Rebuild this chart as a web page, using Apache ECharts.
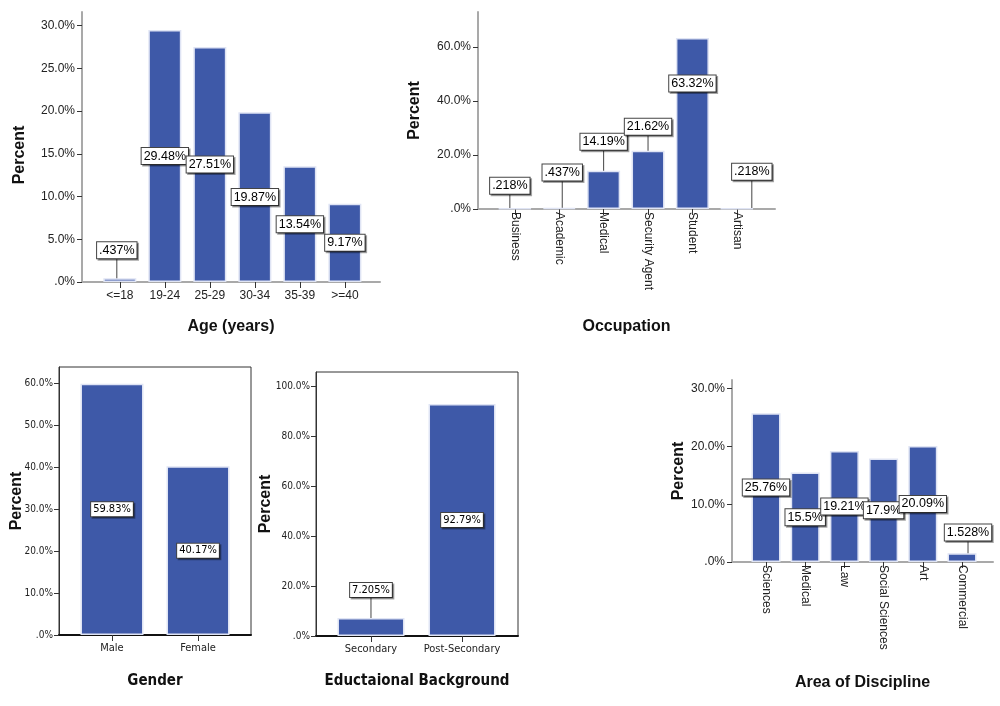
<!DOCTYPE html>
<html>
<head>
<meta charset="utf-8">
<title>Respondent profile</title>
<script src="https://cdn.jsdelivr.net/npm/echarts@6/dist/echarts.min.js"></script>
<style>
  html, body { margin: 0; padding: 0; background: #fff; }
  #main { width: 1000px; height: 706px; }
</style>
</head>
<body>
<div id="main"></div>
<script>
// categories
const ageCats = ['<=18', '19-24', '25-29', '30-34', '35-39', '>=40'];
const occCats = ['Business', 'Academic', 'Medical', 'Security Agent', 'Student', 'Artisan'];
const genderCats = ['Male', 'Female'];
const eduCats = ['Secondary', 'Post-Secondary'];
const discCats = ['Sciences', 'Medical', 'Law', 'Social Sciences', 'Art', 'Commercial'];

// percent values
const ageVals = [0.437, 29.48, 27.51, 19.87, 13.54, 9.17];
const occVals = [0.218, 0.437, 14.19, 21.62, 63.32, 0.218];
const genderVals = [59.83, 40.17];
const eduVals = [7.205, 92.79];
const discVals = [25.76, 15.5, 19.21, 17.9, 20.09, 1.528];

// y tick labels
const ageTicks = [0, 5, 10, 15, 20, 25, 30];
const occTicks = [0, 20, 40, 60];
const genderTicks = [0, 10, 20, 30, 40, 50, 60];
const eduTicks = [0, 20, 40, 60, 80, 100];
const discTicks = [0, 10, 20, 30];

const SANS = '"Liberation Sans", Arial, sans-serif';
const NARROW = '"DejaVu Sans Condensed", "Liberation Sans Narrow", "Liberation Sans", sans-serif';
const BAR = '#3E59A8';

function pctTick(v) {
  return v === 0 ? '.0%' : v.toFixed(1) + '%';
}
function pctLabel(v) {
  let s = String(Number(v.toPrecision(4)));
  if (s.indexOf('0.') === 0) s = s.slice(1);
  return s + '%';
}

let grids = [], xAxes = [], yAxes = [], series = [];

// p: one small bar panel
function panel(p) {
  const idx = grids.length;
  const narrow = p.font === NARROW;
  grids.push({
    left: p.box[0], top: p.box[1], width: p.box[2], height: p.box[3],
    outerBoundsMode: 'none',
    show: !!p.frame, borderColor: '#333', borderWidth: 1, backgroundColor: 'transparent'
  });
  const catIdx = p.cats.map((c, i) => i);
  xAxes.push({
    gridIndex: idx, type: 'value', min: p.xr[0], max: p.xr[1],
    splitLine: {show: false},
    axisLine: {show: true, onZero: false, lineStyle: {color: p.frame ? '#111' : '#a9a9a9', width: 2}},
    axisTick: {show: true, customValues: catIdx, length: 6, lineStyle: {color: '#333'}},
    axisLabel: {
      customValues: catIdx, formatter: v => p.cats[v], rotate: p.rotate ? -90 : 0,
      margin: p.rotate ? 3 : 8, color: '#222', fontSize: narrow ? 11 : 12, fontFamily: p.font
    },
    name: p.title, nameLocation: 'middle', nameGap: p.titleGap, nameMoveOverlap: false,
    nameTextStyle: {fontWeight: 'bold', fontSize: narrow ? 15 : 16, color: '#111', fontFamily: p.font}
  });
  yAxes.push({
    gridIndex: idx, type: 'value', min: 0, max: p.ymax,
    splitLine: {show: false},
    axisLine: {show: true, onZero: false, lineStyle: {color: p.frame ? '#333' : '#a9a9a9', width: p.frame ? 1 : 2}},
    axisTick: {show: true, customValues: p.ticks, length: 5, lineStyle: {color: '#333'}},
    axisLabel: {customValues: p.ticks, formatter: pctTick, color: '#222', margin: narrow ? 6 : 7,
      fontSize: narrow ? 10 : 12, fontFamily: p.font},
    name: 'Percent', nameLocation: 'middle', nameGap: p.pGap, nameMoveOverlap: false,
    nameTextStyle: {fontWeight: 'bold', fontSize: 16, color: '#111', fontFamily: SANS,
      padding: p.pPad || 0}
  });
  const lift = p.lift || {};
  series.push({
    type: 'bar', xAxisIndex: idx, yAxisIndex: idx, barWidth: p.barW,
    data: p.vals.map((v, i) => ({
      value: [i, v],
      labelLine: {show: !!(lift[i] && lift[i][2])}
    })),
    itemStyle: {color: BAR, borderColor: '#dfe4f4', borderWidth: 1.5},
    label: {
      show: true, position: 'inside', formatter: q => pctLabel(q.value[1]),
      color: '#000', fontSize: narrow ? 11 : 12.5, fontFamily: p.font,
      backgroundColor: '#fff', borderColor: '#444', borderWidth: 1, padding: [2, 2, 1, 2],
      shadowColor: 'rgba(0,0,0,0.35)', shadowOffsetX: 1.5, shadowOffsetY: 1.5, shadowBlur: 0
    },
    labelLine: {lineStyle: {color: '#444', width: 1}},
    labelLayout: q => {
      const l = lift[q.dataIndex];
      return l ? {dx: l[0], dy: l[1]} : {};
    },
    emphasis: {disabled: true},
    animation: false
  });
}

panel({cats: ageCats, vals: ageVals, ticks: ageTicks, box: [82, 12, 298, 270], xr: [-0.84, 5.78],
  ymax: 31.6, barW: 33, font: SANS, title: 'Age (years)', titleGap: 37, pGap: 54, pPad: [0, 16, 0, 0],
  lift: {0: [-3, -30, true]}});
panel({cats: occCats, vals: occVals, ticks: occTicks, box: [478, 12, 297, 197], xr: [-0.83, 5.86],
  ymax: 73, barW: 33, font: SANS, rotate: true, title: 'Occupation', titleGap: 110, pGap: 55,
  lift: {0: [-5, -23, true], 1: [3, -36, true], 2: [0, -48, true], 3: [0, -53, true], 4: [0, -40], 5: [15, -37, true]}});
panel({cats: genderCats, vals: genderVals, ticks: genderTicks, box: [59, 367, 192, 268], xr: [-0.616, 1.616],
  ymax: 63.8, barW: 63, font: NARROW, frame: true, title: 'Gender', titleGap: 39, pGap: 34});
panel({cats: eduCats, vals: eduVals, ticks: eduTicks, box: [316, 372, 202, 264], xr: [-0.604, 1.615],
  ymax: 105.6, barW: 67, font: NARROW, frame: true, title: 'Eductaional Background', titleGap: 38, pGap: 42,
  lift: {0: [0, -37, true]}});
panel({cats: discCats, vals: discVals, ticks: discTicks, box: [732, 380, 261, 182], xr: [-0.867, 5.79],
  ymax: 31.5, barW: 29, font: SANS, rotate: true, title: 'Area of Discipline', titleGap: 113, pGap: 45,
  lift: {5: [6, -25, true]}});

const chart = echarts.init(document.getElementById('main'));
chart.setOption({
  backgroundColor: '#fff',
  animation: false,
  grid: grids,
  xAxis: xAxes,
  yAxis: yAxes,
  series: series
});
window.addEventListener('resize', () => chart.resize());
</script>
</body>
</html>
